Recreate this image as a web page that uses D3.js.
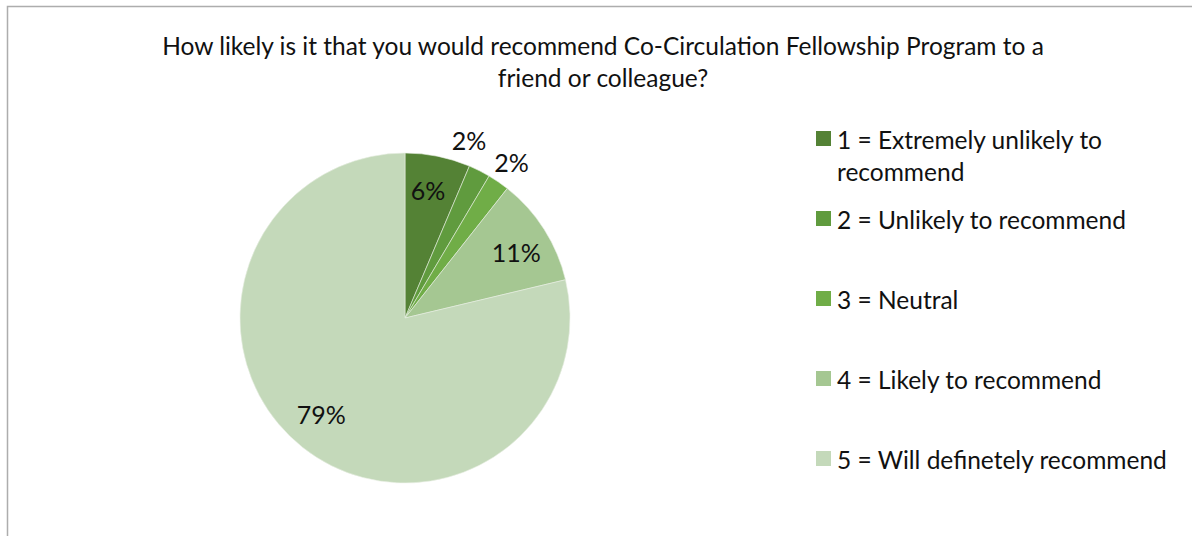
<!DOCTYPE html>
<html>
<head>
<meta charset="utf-8">
<script src="https://d3js.org/d3.v7.min.js"></script>
<style>
  body { margin: 0; background: #fff; }
  svg { display: block; font-family: Lato, "Open Sans", sans-serif; }
</style>
</head>
<body>
<div id="chart"></div>
<script>
// 数据
var categories = [
  "1 = Extremely unlikely to recommend",
  "2 = Unlikely to recommend",
  "3 = Neutral",
  "4 = Likely to recommend",
  "5 = Will definetely recommend"
];
var counts = [3, 1, 1, 5, 37];
var percentLabels = ["6%", "2%", "2%", "11%", "79%"];
var colors = ["#548235", "#609b3e", "#70ad47", "#a5c792", "#c4d9ba"];

var width = 1192, height = 536;
var svg = d3.select("#chart").append("svg")
  .attr("width", width)
  .attr("height", height);

// 外框
svg.append("rect")
  .attr("x", 7.5).attr("y", 6.5)
  .attr("width", 1200).attr("height", 560)
  .style("fill", "none")
  .style("stroke", "#adadad")
  .style("stroke-width", 1.5);

// 标题
var title = svg.append("text")
  .attr("text-anchor", "middle")
  .style("font-size", "24.5px")
  .style("fill", "#111");
title.append("tspan").attr("x", 603).attr("y", 55)
  .text("How likely is it that you would recommend Co-Circulation Fellowship Program to a");
title.append("tspan").attr("x", 603).attr("y", 87)
  .text("friend or colleague?");

// 饼图
var cx = 405, cy = 318, R = 165;
var pie = d3.pie().sort(null).value(function(d) { return d; });
var arcs = pie(counts);
var arc = d3.arc().innerRadius(0).outerRadius(R);

var g = svg.append("g").attr("transform", "translate(" + cx + "," + cy + ")");

g.selectAll(".slice")
  .data(arcs)
  .enter()
  .append("path")
  .attr("class", "slice")
  .attr("d", arc)
  .style("fill", function(d, i) { return colors[i]; })
  .style("stroke", "#e8efe3")
  .style("stroke-width", 0.6);

// 标签：小扇区放外面
var inner = d3.arc().innerRadius(R * 0.78).outerRadius(R * 0.78);
var outer = d3.arc().innerRadius(R * 1.14).outerRadius(R * 1.14);
var nudge = [-0.02, -0.12, 0, 0.04, 0.04]; // 避免两个2%重叠（弧度）

g.selectAll(".lbl")
  .data(arcs)
  .enter()
  .append("text")
  .attr("class", "lbl")
  .attr("text-anchor", "middle")
  .attr("dy", "0.35em")
  .style("font-size", "25px")
  .style("fill", "#111")
  .attr("transform", function(d, i) {
    var frac = (d.endAngle - d.startAngle) / (2 * Math.PI);
    var a = frac < 0.04 ? outer : inner;
    var s = { startAngle: d.startAngle + nudge[i], endAngle: d.endAngle + nudge[i] };
    var c = a.centroid(s);
    return "translate(" + c[0] + "," + c[1] + ")";
  })
  .text(function(d, i) { return percentLabels[i]; });

// 图例
var legendY = d3.scalePoint().domain(d3.range(categories.length)).range([141, 461]);
var legend = svg.selectAll(".legend")
  .data(categories)
  .enter()
  .append("g")
  .attr("class", "legend")
  .attr("transform", function(d, i) { return "translate(816," + legendY(i) + ")"; });

legend.append("rect")
  .attr("x", 0).attr("y", -10)
  .attr("width", 15).attr("height", 15)
  .style("fill", function(d, i) { return colors[i]; });

legend.each(function(d, i) {
  var t = d3.select(this).append("text")
    .attr("x", 21).attr("y", 8)
    .style("font-size", "24.5px")
    .style("fill", "#111");
  if (i == 0) {
    t.append("tspan").attr("x", 21).attr("dy", 0).text("1 = Extremely unlikely to");
    t.append("tspan").attr("x", 21).attr("dy", 32).text("recommend");
  } else {
    t.text(d);
  }
});
</script>
</body>
</html>
